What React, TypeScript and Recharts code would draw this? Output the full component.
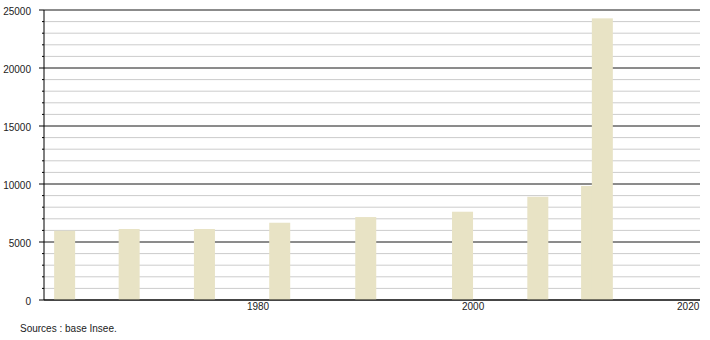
import { Bar, BarChart, CartesianGrid, XAxis, YAxis } from 'recharts';

const YEARS = [1962, 1968, 1975, 1982, 1990, 1999, 2006, 2011, 2012];
const POPULATION = [5970, 6120, 6120, 6660, 7150, 7610, 8900, 9830, 24280];
const X_TICKS = [1980, 2000, 2020];
const Y_TICKS = [
  0, 1000, 2000, 3000, 4000, 5000, 6000, 7000, 8000, 9000, 10000, 11000, 12000,
  13000, 14000, 15000, 16000, 17000, 18000, 19000, 20000, 21000, 22000, 23000,
  24000, 25000,
];
const Y_MAJOR = [0, 5000, 10000, 15000, 20000, 25000];
const SOURCE = 'Sources : base Insee.';

const FONT = '"Liberation Sans", Arial, sans-serif';
const BAR_W = 21;

const data = YEARS.map((annee, i) => ({ annee, pop: POPULATION[i] }));

const YTick = ({ x, y, payload }: any) => {
  const major = payload.value % 5000 === 0;
  return (
    <g>
      <line x1={x - (major ? 5 : 2)} x2={x} y1={y} y2={y} stroke="#000" />
      {major && (
        <text
          x={x - 13}
          y={y}
          dy={4.5}
          textAnchor="end"
          fontSize={10}
          fontFamily={FONT}
          fill="#222"
        >
          {payload.value}
        </text>
      )}
    </g>
  );
};

// the band is only one year wide here, so widen each bar around its centre
const WideBar = ({ x, y, width, height }: any) => (
  <rect x={x + width / 2 - BAR_W / 2} y={y} width={BAR_W} height={height} fill="#e8e3c5" />
);

export default function App() {
  return (
    <div style={{ position: 'absolute', left: 0, top: 0, width: 710, height: 340, background: '#fff' }}>
      <BarChart
        width={710}
        height={340}
        data={data}
        margin={{ top: 10, right: 10, bottom: 20, left: 0 }}
      >
        <CartesianGrid vertical={false} stroke="#cccccc" horizontalValues={Y_TICKS} />
        <CartesianGrid vertical={false} stroke="#333333" horizontalValues={Y_MAJOR} />
        <XAxis
          dataKey="annee"
          type="number"
          domain={[1960.1, 2021.1]}
          ticks={X_TICKS}
          allowDataOverflow
          height={20}
          tickLine={false}
          tickSize={0}
          tickMargin={3}
          axisLine={{ stroke: '#000' }}
          tick={{ fontSize: 10, fontFamily: FONT, fill: '#222' }}
        />
        <YAxis
          width={44}
          domain={[0, 25000]}
          ticks={Y_TICKS}
          interval={0}
          tickLine={false}
          tickSize={0}
          tickMargin={0}
          axisLine={{ stroke: '#000' }}
          tick={<YTick />}
        />
        <Bar dataKey="pop" fill="#e8e3c5" shape={<WideBar />} isAnimationActive={false} />
      </BarChart>
      <div
        style={{
          position: 'absolute',
          left: 20,
          top: 323,
          fontFamily: FONT,
          fontSize: 10,
          color: '#222',
          whiteSpace: 'nowrap',
        }}
      >
        {SOURCE}
      </div>
    </div>
  );
}
